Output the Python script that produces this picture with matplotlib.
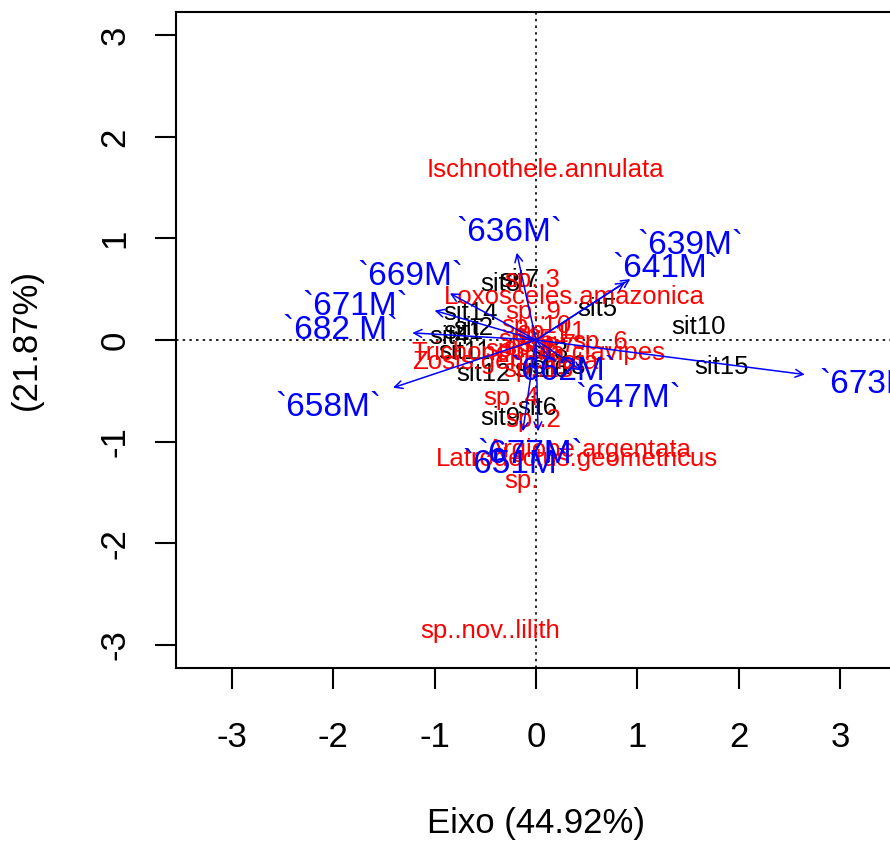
import matplotlib
matplotlib.use("Agg")
import matplotlib.pyplot as plt

plt.rcParams['font.family'] = ['Liberation Sans', 'DejaVu Sans']

# Environmental vectors (arrow tips and label positions)
env_names = ["`673M`", "`658M`", "`682 M`", "`671M`", "`669M`", "`636M`",
             "`639M`", "`641M`", "`647M`", "`662M`", "`677M`", "`651M`"]
env_x = [2.65, -1.41, -1.22, -1.00, -0.85, -0.19, 0.93, 0.88, 0.45, 0.15, 0.02, -0.13]
env_y = [-0.34, -0.47, 0.07, 0.29, 0.46, 0.86, 0.60, 0.57, -0.30, -0.20, -0.90, -0.90]
env_lx = [3.32, -2.05, -1.93, -1.78, -1.24, -0.26, 1.52, 1.27, 0.91, 0.27, -0.06, -0.21]
env_ly = [-0.44, -0.66, 0.09, 0.33, 0.63, 1.06, 0.93, 0.70, -0.58, -0.31, -1.13, -1.23]

# Sites
site_names = ["sit1", "sit2", "sit3", "sit4", "sit5", "sit6", "sit7", "sit8",
              "sit9", "sit10", "sit11", "sit12", "sit13", "sit14", "sit15", "sit16"]
site_x = [-0.72, -0.62, 0.12, -0.85, 0.61, 0.01, -0.16, -0.35,
          -0.35, 1.60, -0.70, -0.52, 0.22, -0.65, 1.83, 0.05]
site_y = [0.08, 0.12, -0.12, 0.03, 0.31, -0.67, 0.59, 0.55,
          -0.77, 0.13, -0.12, -0.33, -0.27, 0.27, -0.27, -0.30]

# Species
sp_names = ["Ischnothele.annulata", "Loxosceles.amazonica", "sp..3", "sp..9",
            "sp..10", "sp..6", "Trichonephila.clavipes", "Zosis.geniculata",
            "sp..4", "sp..2", "Argiope.argentata", "Latrodectus.geometricus",
            "sp.", "sp..nov..lilith", "sp..1", "sp..5", "sp..7", "sp..8",
            "sp..11", "sp..12", "sp..13"]
sp_x = [0.09, 0.38, -0.04, -0.03, 0.00, 0.63, 0.02, -0.30,
        -0.24, -0.03, 0.53, 0.40, -0.14, -0.45, 0.05, -0.10, 0.12, -0.05,
        0.15, -0.15, 0.02]
sp_y = [1.67, 0.42, 0.59, 0.28, 0.14, -0.02, -0.13, -0.22,
        -0.57, -0.79, -1.08, -1.17, -1.39, -2.87, 0.05, 0.00, -0.05, -0.08,
        0.08, -0.10, -0.30]

xlabel = "Eixo (44.92%)"
ylabel = "(21.87%)"
xticks = [-3, -2, -1, 0, 1, 2, 3]
yticks = [-3, -2, -1, 0, 1, 2, 3]

fig = plt.figure(figsize=(8.9, 8.42), dpi=100)
ax = fig.add_axes([176/890, 1 - 668/842, 720/890, 656/842])
ax.set_xlim(-3.55, 3.55)
ax.set_ylim(-3.23, 3.23)

ax.axhline(0, color='black', ls=(0, (1.5, 2.5)), lw=1.2, zorder=1)
ax.axvline(0, color='black', ls=(0, (1.5, 2.5)), lw=1.2, zorder=1)

for n, x, y in zip(site_names, site_x, site_y):
    ax.text(x, y, n, color='black', fontsize=18.5, ha='center', va='center', zorder=2)

for n, x, y in zip(sp_names, sp_x, sp_y):
    ax.text(x, y, n, color='#FF0000', fontsize=18.5, ha='center', va='center', zorder=3)

for n, x, y, lx, ly in zip(env_names, env_x, env_y, env_lx, env_ly):
    ax.annotate("", xy=(x, y), xytext=(0, 0),
                arrowprops=dict(arrowstyle='->', color='#0000FF', lw=1.1,
                                mutation_scale=14, shrinkA=0, shrinkB=0), zorder=4)
    ax.text(lx, ly, n, color='#0000FF', fontsize=24, ha='center', va='center', zorder=5)

ax.set_xticks(xticks)
ax.set_yticks(yticks)
ax.set_xticklabels([str(t) for t in xticks])
ax.set_yticklabels([str(t) for t in yticks], rotation=90, va='center')
ax.tick_params(axis='both', length=15, width=1.5, labelsize=25)
ax.tick_params(axis='x', pad=23)
ax.tick_params(axis='y', pad=17)
for s in ax.spines.values():
    s.set_linewidth(1.5)

ax.set_xlabel(xlabel, fontsize=25, labelpad=38)
ax.set_ylabel(ylabel, fontsize=25, labelpad=40)

fig.savefig("out.png", dpi=100)
